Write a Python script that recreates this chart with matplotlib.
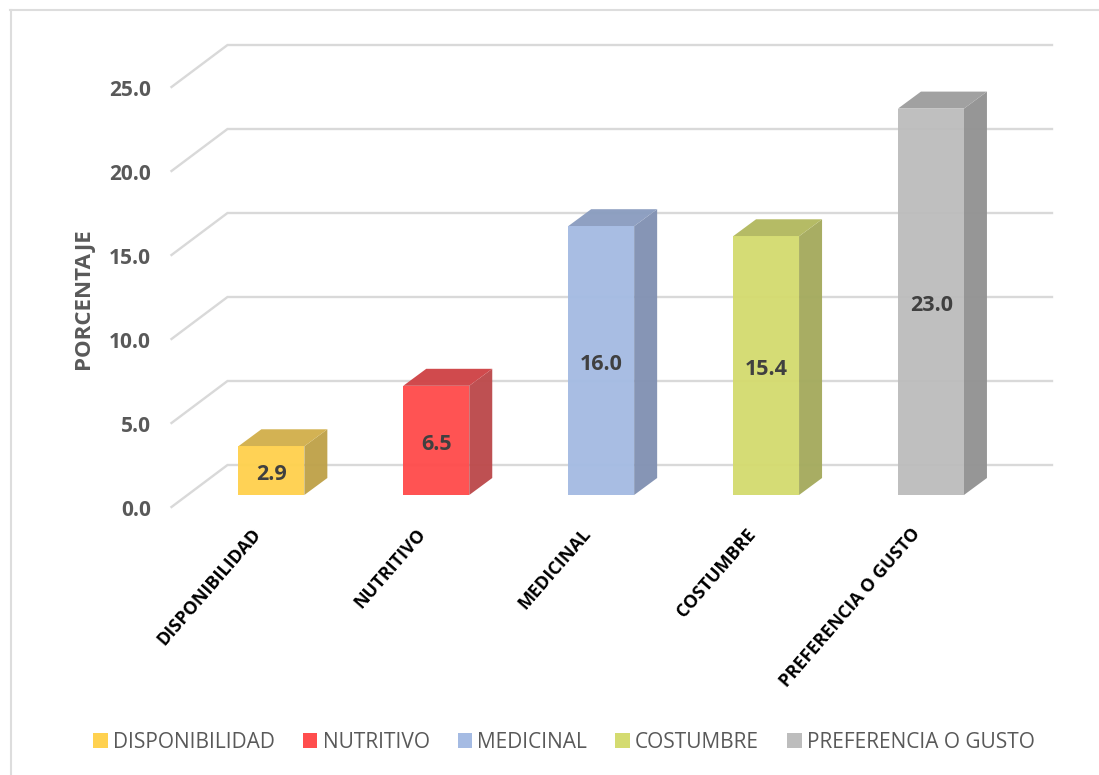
import matplotlib
matplotlib.use("Agg")
from matplotlib import pyplot as plt
from matplotlib.patches import Polygon, Rectangle
from matplotlib.transforms import ScaledTranslation

plt.rcParams['font.family'] = ['Open Sans', 'DejaVu Sans']

# data
categories = ["DISPONIBILIDAD", "NUTRITIVO", "MEDICINAL", "COSTUMBRE", "PREFERENCIA O GUSTO"]
values = [2.9, 6.5, 16.0, 15.4, 23.0]
y_ticks = [0, 5, 10, 15, 20, 25]
front_colors = ["#FFD14F", "#FF4D4D", "#A5BBE3", "#D4DB70", "#BDBDBD"]
top_colors = ["#D2B04D", "#CF4447", "#8B9DC0", "#B3B960", "#9E9E9E"]
side_colors = ["#BFA24A", "#BC4A4C", "#8292B3", "#A5AB5E", "#939393"]

W, H = 1099, 775
GRID = "#D9D9D9"

fig = plt.figure(figsize=(W / 100, H / 100), dpi=100)

# frame of the picture, only top and left show
fig.add_artist(plt.Line2D([10 / W, 1], [1 - 9.5 / H, 1 - 9.5 / H], color="#DDDDDD", linewidth=1.5))
fig.add_artist(plt.Line2D([10.5 / W, 10.5 / W], [0, 1 - 9.5 / H], color="#DDDDDD", linewidth=1.5))

# axes = the front floor plane of the 3d chart, 172..997 px wide, 87..507 px tall
ax = fig.add_axes([171.5 / W, 1 - 507 / H, 824.5 / W, 420 / H])
ax.set_xlim(-0.5, 4.5)
ax.set_ylim(0, 25)
for s in ax.spines.values():
    s.set_visible(False)

px_x = 5 / 824.5
px_y = 25 / 420

# gridlines: diagonal on the side wall, then along the back wall
back_dx, back_dy = 56 * px_x, 42 * px_y
for t in y_ticks:
    ax.plot([-0.5, -0.5 + back_dx, 4.5 + back_dx], [t, t + back_dy, t + back_dy],
            color=GRID, linewidth=1.7, clip_on=False, zorder=1, solid_joinstyle="miter")

# bars
bar_w = 66 * px_x
depth_x, depth_y = 23 * px_x, 17 * px_y
shift_x, base_y = 17.4 * px_x, 12 * px_y
for i, v in enumerate(values):
    x0 = i + shift_x - bar_w / 2
    x1 = x0 + bar_w
    y0 = base_y
    y1 = base_y + v
    ax.add_patch(Polygon([(x1, y0), (x1 + depth_x, y0 + depth_y), (x1 + depth_x, y1 + depth_y), (x1, y1)],
                         facecolor=side_colors[i], alpha=0.97, edgecolor="none", clip_on=False, zorder=3))
    ax.add_patch(Polygon([(x0, y1), (x1, y1), (x1 + depth_x, y1 + depth_y), (x0 + depth_x, y1 + depth_y)],
                         facecolor=top_colors[i], alpha=0.97, edgecolor="none", clip_on=False, zorder=3))
    ax.add_patch(Rectangle((x0, y0), bar_w, v, facecolor=front_colors[i], alpha=0.97,
                           edgecolor="none", clip_on=False, zorder=4))
    ax.text((x0 + x1) / 2 + 0.5 * px_x, y0 + v / 2 - 4 * px_y, f"{v:.1f}", ha="center", va="center",
            fontsize=15.5, fontweight="bold", color="#404040", zorder=5)

# axis labels
ax.set_yticks(y_ticks)
ax.set_yticklabels([f"{t:.1f}" for t in y_ticks], fontsize=15, fontweight="bold", color="#595959")
ax.tick_params(axis="y", length=0, pad=15)
for lab in ax.get_yticklabels():
    lab.set_transform(lab.get_transform() + ScaledTranslation(0, -1 / 100, fig.dpi_scale_trans))
ax.set_xticks(range(len(categories)))
ax.set_xticklabels(categories, rotation=49, ha="right", rotation_mode="anchor",
                   fontsize=13, fontweight="bold", color="#000000")
ax.tick_params(axis="x", length=0, pad=13)
for lab in ax.get_xticklabels():
    lab.set_transform(lab.get_transform() + ScaledTranslation(-3 / 100, 0, fig.dpi_scale_trans))
ax.grid(False)

fig.text(84 / W, 1 - 299 / H, "PORCENTAJE", rotation=90, ha="center", va="center",
         fontsize=16, fontweight="bold", color="#595959")

# legend
handles = [Rectangle((0, 0), 1, 1, facecolor=c, edgecolor="none") for c in front_colors]
fig.legend(handles, categories, loc="center", bbox_to_anchor=(564 / W, 1 - 742.5 / H), ncol=5,
           frameon=False, fontsize=15, labelcolor="#595959", handlelength=0.7, handleheight=0.7,
           handletextpad=0.25, columnspacing=1.35)

fig.savefig("out.png", dpi=100)
